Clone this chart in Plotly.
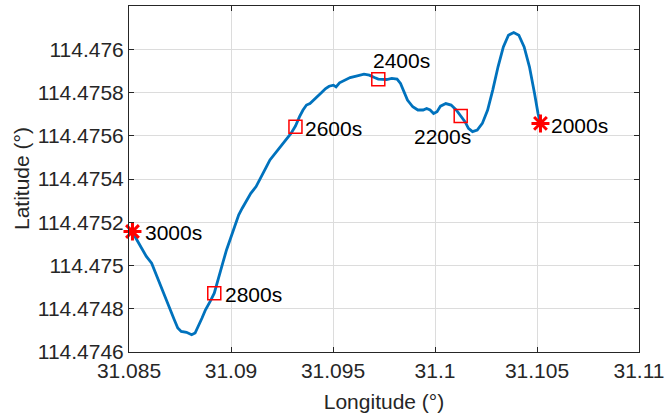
import plotly.graph_objects as go

# Trajectory (time order 2000s -> 3000s)
lon = [31.10517, 31.10505, 31.10488, 31.10463, 31.10437, 31.10411, 31.10386, 31.10360, 31.10335, 31.10309,
       31.10283, 31.10258, 31.10232, 31.10207, 31.10184, 31.10164, 31.10147, 31.10126, 31.10104, 31.10079,
       31.10053, 31.10027, 31.10010, 31.09993, 31.09976, 31.09959, 31.09942, 31.09916, 31.09891, 31.09865,
       31.09848, 31.09831, 31.09814, 31.09788, 31.09763, 31.09737, 31.09722, 31.09703, 31.09678, 31.09652,
       31.09635, 31.09609, 31.09584, 31.09558, 31.09532, 31.09515, 31.09502, 31.09481, 31.09464, 31.09439,
       31.09413, 31.09387, 31.09370, 31.09353, 31.09336, 31.09316, 31.09294, 31.09268, 31.09242, 31.09217,
       31.09191, 31.09174, 31.09148, 31.09123, 31.09097, 31.09072, 31.09055, 31.09038, 31.09020, 31.09000,
       31.08978, 31.08957, 31.08939, 31.08918, 31.08898, 31.08875, 31.08858, 31.08841, 31.08824, 31.08807,
       31.08782, 31.08756, 31.08739, 31.08722, 31.08705, 31.08679, 31.08654, 31.08628, 31.08611, 31.08585,
       31.08560, 31.08534, 31.08517]
lat = [114.475657, 114.475703, 114.475795, 114.475919, 114.476011, 114.476065, 114.476077, 114.476065, 114.476011, 114.475919,
       114.475811, 114.475719, 114.475657, 114.475626, 114.475619, 114.475634, 114.475665, 114.475691, 114.475719, 114.475742,
       114.475749, 114.475737, 114.475711, 114.475703, 114.475719, 114.475726, 114.475719, 114.475719, 114.475734, 114.475765,
       114.475803, 114.475842, 114.475862, 114.475865, 114.475860, 114.475862, 114.475862, 114.475869, 114.475880, 114.475885,
       114.475880, 114.475875, 114.475869, 114.475857, 114.475845, 114.475826, 114.475834, 114.475829, 114.475818, 114.475795,
       114.475772, 114.475749, 114.475742, 114.475719, 114.475688, 114.475645, 114.475611, 114.475580, 114.475549, 114.475518,
       114.475488, 114.475457, 114.475411, 114.475365, 114.475334, 114.475295, 114.475265, 114.475234, 114.475188, 114.475134,
       114.475072, 114.475003, 114.474942, 114.474872, 114.474834, 114.474795, 114.474757, 114.474718, 114.474688, 114.474680,
       114.474691, 114.474695, 114.474711, 114.474749, 114.474788, 114.474849, 114.474911, 114.474972, 114.475011, 114.475042,
       114.475080, 114.475126, 114.475157]

# Start / end points (stars)
star_lon = [31.10517, 31.08517]
star_lat = [114.475657, 114.475157]
star_labels = ["2000s", "3000s"]

# Intermediate time marks (squares)
sq_lon = [31.10126, 31.09722, 31.09316, 31.08918]
sq_lat = [114.475691, 114.4758615, 114.4756415, 114.474872]
sq_labels = ["2200s", "2400s", "2600s", "2800s"]

x_ticks = [31.085, 31.09, 31.095, 31.1, 31.105, 31.11]
x_ticktext = ["31.085", "31.09", "31.095", "31.1", "31.105", "31.11"]
y_ticks = [114.4746, 114.4748, 114.475, 114.4752, 114.4754, 114.4756, 114.4758, 114.476]
y_ticktext = ["114.4746", "114.4748", "114.475", "114.4752", "114.4754", "114.4756", "114.4758", "114.476"]

FONT = "Liberation Sans, Arial, sans-serif"
AX = "#262626"

fig = go.Figure()
fig.add_trace(go.Scatter(x=lon, y=lat, mode="lines",
                         line=dict(color="#0072BD", width=2.8), showlegend=False))
fig.add_trace(go.Scatter(x=sq_lon, y=sq_lat, mode="markers",
                         marker=dict(symbol="square-open", size=13, color="#FF0000",
                                     line=dict(color="#FF0000", width=1.5)),
                         showlegend=False))
fig.add_trace(go.Scatter(x=star_lon, y=star_lat, mode="markers",
                         marker=dict(symbol="asterisk-open", size=15, color="#FF0000",
                                     line=dict(color="#FF0000", width=3)),
                         showlegend=False, cliponaxis=False))

# label offsets (pixels)
offsets = {
    "2000s": (9, -2, "left"),
    "3000s": (11, -1, "left"),
    "2200s": (-18, -20, "center"),
    "2400s": (23, 19, "center"),
    "2600s": (8, -2, "left"),
    "2800s": (9, -1, "left"),
}
for xs, ys, ts in [(star_lon, star_lat, star_labels), (sq_lon, sq_lat, sq_labels)]:
    for x, y, t in zip(xs, ys, ts):
        dx, dy, anchor = offsets[t]
        fig.add_annotation(x=x, y=y, text=t, showarrow=False, xanchor=anchor, yanchor="middle",
                           xshift=dx, yshift=dy, font=dict(family=FONT, size=21, color="black"))

# y-axis title as rotated annotation
fig.add_annotation(text="Latitude (°)", xref="paper", yref="paper", x=0, y=0.5,
                   xanchor="center", yanchor="middle", xshift=-108, textangle=-90,
                   showarrow=False, font=dict(family=FONT, size=21, color=AX))

axis_common = dict(showline=True, linecolor=AX, linewidth=1, mirror="ticks",
                   ticks="inside", ticklen=5, tickcolor=AX, tickwidth=1,
                   showgrid=True, gridcolor="#dcdcdc", gridwidth=1, zeroline=False,
                   automargin=False,
                   tickfont=dict(family=FONT, size=21, color=AX))

fig.update_xaxes(range=[31.085, 31.11], tickvals=x_ticks, ticktext=x_ticktext,
                 title=dict(text="Longitude (°)", font=dict(family=FONT, size=21, color=AX)),
                 **axis_common)
fig.update_yaxes(range=[114.4746, 114.47620], tickvals=y_ticks, ticktext=y_ticktext,
                 **axis_common)

fig.update_layout(width=666, height=413, margin=dict(l=129, r=27, t=6, b=61),
                  plot_bgcolor="white", paper_bgcolor="white")

fig.write_html("out.html", config={"displayModeBar": False},
               post_script="document.body.style.margin='0';document.body.style.overflow='hidden';")
